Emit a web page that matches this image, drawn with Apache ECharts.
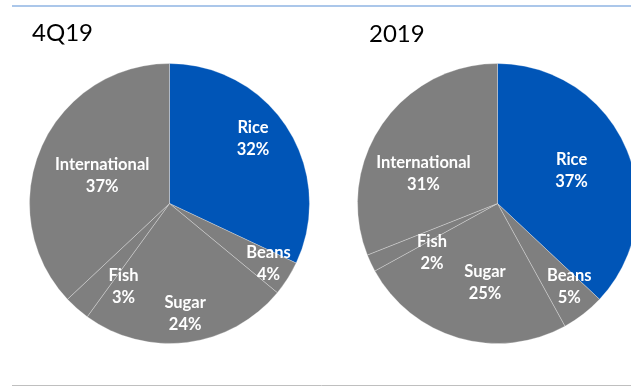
<!DOCTYPE html>
<html>
<head>
<meta charset="utf-8">
<script src="https://cdn.jsdelivr.net/npm/echarts@6/dist/echarts.min.js"></script>
<style>
  html, body { margin: 0; padding: 0; background: #ffffff; }
  #chart { width: 631px; height: 387px; }
</style>
</head>
<body>
<div id="chart"></div>
<script>
// Sales mix by product line, share of total (%)
const categories = ['Rice', 'Beans', 'Sugar', 'Fish', 'International'];
const quarterShare = [32, 4, 24, 3, 37];   // 4Q19
const yearShare = [37, 5, 25, 2, 31];      // 2019
const panelTitles = ['4Q19', '2019'];

// Label placement (radius in px from the pie centre, and an angular nudge in degrees)
const quarterLabelRadius = [106, 116, 111, 95, 73];
const quarterLabelNudge = [-5.6, -1, -0.9, -12.4, -0.7];
const yearLabelRadius = [81, 110, 80, 82, 80];
const yearLabelNudge = [-0.5, -2.9, -7.2, -11.7, -12];

const BLUE = '#0055B7';
const GREY = '#7F7F7F';
const PIE_R = 140;
const centers = [[169.5, 203.5], [497.5, 203.5]];

const chart = echarts.init(document.getElementById('chart'), null, { renderer: 'canvas' });

function buildData(values) {
  return categories.map((name, i) => ({
    name: name,
    value: values[i],
    itemStyle: { color: i === 0 ? BLUE : GREY }
  }));
}

function labelLayoutFor(values, radii, nudges, center) {
  const total = values.reduce((a, b) => a + b, 0);
  return function (params) {
    const idx = params.dataIndex;
    let before = 0;
    for (let k = 0; k < idx; k++) before += values[k];
    const midDeg = (before + values[idx] / 2) / total * 360 + nudges[idx];
    const rad = midDeg * Math.PI / 180;
    return {
      x: center[0] + radii[idx] * Math.sin(rad),
      y: center[1] - radii[idx] * Math.cos(rad),
      align: 'center',
      verticalAlign: 'middle'
    };
  };
}

function pieSeries(values, center, radii, nudges) {
  return {
    type: 'pie',
    center: center,
    radius: [0, PIE_R],
    startAngle: 90,
    clockwise: true,
    avoidLabelOverlap: false,
    silent: true,
    data: buildData(values),
    itemStyle: {
      borderColor: 'rgba(255,255,255,0.4)',
      borderWidth: 0.7
    },
    label: {
      show: true,
      position: 'inside',
      formatter: '{b}\n{c}%',
      color: '#ffffff',
      fontFamily: 'Lato',
      fontWeight: 'bold',
      fontSize: 16.5,
      lineHeight: 22
    },
    labelLine: { show: false },
    labelLayout: labelLayoutFor(values, radii, nudges, center),
    emphasis: { disabled: true }
  };
}

chart.setOption({
  animation: false,
  backgroundColor: '#ffffff',
  graphic: [
    {
      type: 'line',
      shape: { x1: 12, y1: 6, x2: 631, y2: 6 },
      style: { stroke: '#8FB4E3', lineWidth: 1.5 }
    },
    {
      type: 'line',
      shape: { x1: 12, y1: 385.5, x2: 631, y2: 385.5 },
      style: { stroke: '#BFBFBF', lineWidth: 1 }
    },
    {
      type: 'text',
      left: 32,
      top: 21,
      style: { text: panelTitles[0], fill: '#000000', font: '24px Lato' }
    },
    {
      type: 'text',
      left: 369,
      top: 22,
      style: { text: panelTitles[1], fill: '#000000', font: '24px Lato' }
    }
  ],
  series: [
    pieSeries(quarterShare, centers[0], quarterLabelRadius, quarterLabelNudge),
    pieSeries(yearShare, centers[1], yearLabelRadius, yearLabelNudge)
  ]
});
</script>
</body>
</html>
